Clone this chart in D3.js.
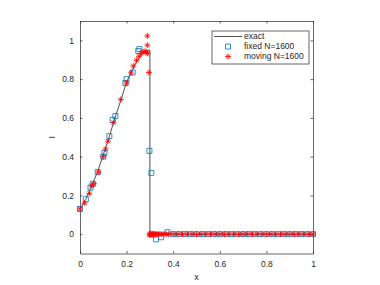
<!DOCTYPE html>
<html>
<head>
<meta charset="utf-8">
<script src="https://cdn.jsdelivr.net/npm/d3@7"></script>
<style>
body { margin: 0; background: #fff; }
text { font-family: "Liberation Sans", Arial, sans-serif; }
</style>
</head>
<body>
<div id="chart"></div>
<script>
var width = 380,
    height = 285;

// exact solution
var exactX = [0, 0.025, 0.05, 0.075, 0.1, 0.125, 0.15, 0.175, 0.2, 0.225, 0.25, 0.275, 0.3, 0.3, 1];
var exactY = [0.13, 0.18, 0.25, 0.32, 0.41, 0.50, 0.60, 0.69, 0.785, 0.85, 0.905, 0.94, 0.95, 0, 0];

// fixed grid N=1600
var fixedX = [0, 0.025, 0.045, 0.055, 0.076, 0.1, 0.105, 0.126, 0.14, 0.152, 0.195, 0.2, 0.226, 0.25, 0.255,
              0.298, 0.306, 0.326, 0.348, 0.375,
              0.4, 0.425, 0.45, 0.475, 0.5, 0.525, 0.55, 0.575, 0.6, 0.625, 0.65, 0.675, 0.7, 0.725, 0.75,
              0.775, 0.8, 0.825, 0.85, 0.875, 0.9, 0.925, 0.95, 0.975, 1];
var fixedY = [0.13, 0.18, 0.24, 0.26, 0.32, 0.40, 0.42, 0.506, 0.59, 0.61, 0.78, 0.80, 0.834, 0.945, 0.955,
              0.43, 0.316, -0.027, -0.016, 0.01,
              0, 0, 0, 0, 0, 0, 0, 0, 0, 0, 0, 0, 0, 0, 0,
              0, 0, 0, 0, 0, 0, 0, 0, 0, 0];

// moving grid N=1600
var movX = [0, 0.02, 0.04, 0.05, 0.06, 0.08, 0.1, 0.11, 0.12, 0.143, 0.175, 0.2, 0.219, 0.229, 0.243, 0.253,
            0.262, 0.27, 0.279, 0.285, 0.29, 0.289, 0.289, 0.296,
            0.298, 0.3, 0.302, 0.305, 0.308, 0.311, 0.315, 0.32, 0.325, 0.33, 0.336, 0.343, 0.35, 0.36, 0.37,
            0.38, 0.4, 0.42, 0.44, 0.46, 0.48, 0.5, 0.52, 0.54, 0.56, 0.58, 0.6, 0.62, 0.64, 0.66, 0.68, 0.7,
            0.72, 0.74, 0.76, 0.78, 0.8, 0.82, 0.84, 0.86, 0.88, 0.9, 0.92, 0.94, 0.96, 0.98, 1];
var movY = [0.13, 0.16, 0.21, 0.25, 0.26, 0.32, 0.40, 0.44, 0.48, 0.576, 0.695, 0.78, 0.832, 0.868, 0.897, 0.918,
            0.933, 0.941, 0.944, 0.939, 0.933, 1.023, 0.975, 0.834,
            0, -0.005, 0.003, -0.004, 0.002, -0.002, 0.001, 0, 0, 0, 0, 0, 0, 0, 0,
            0, 0, 0, 0, 0, 0, 0, 0, 0, 0, 0, 0, 0, 0, 0, 0, 0,
            0, 0, 0, 0, 0, 0, 0, 0, 0, 0, 0, 0, 0, 0, 0];

var xTicks = [0, 0.2, 0.4, 0.6, 0.8, 1];
var yTicks = [0, 0.2, 0.4, 0.6, 0.8, 1];
var legendLabels = ["exact", "fixed N=1600", "moving N=1600"];

var axisColor = "#262626",
    blue = "#0072BD",
    red = "#FF0000";

var svg = d3.select("#chart").append("svg")
    .attr("width", width)
    .attr("height", height);

var x = d3.scaleLinear().domain([0, 1]).range([80, 313]);
var y = d3.scaleLinear().domain([-0.1, 1.1]).range([253.5, 21]);

// axes (box, ticks pointing inside)
function styleAxis(g) {
    g.selectAll("path").attr("stroke", axisColor).attr("stroke-width", 0.7);
    g.selectAll("line").attr("stroke", axisColor).attr("stroke-width", 0.7);
    g.selectAll("text").attr("fill", axisColor).style("font-size", "8.5px")
        .style("font-family", "'Liberation Sans', Arial, sans-serif");
}

svg.append("g")
    .attr("transform", "translate(0," + y(-0.1) + ")")
    .call(d3.axisBottom(x).tickValues(xTicks).tickFormat(d3.format("~g"))
        .tickSizeInner(-2.5).tickSizeOuter(0).tickPadding(7))
    .call(styleAxis);
svg.append("g")
    .attr("transform", "translate(0," + y(1.1) + ")")
    .call(d3.axisTop(x).tickValues(xTicks).tickFormat("")
        .tickSizeInner(-2.5).tickSizeOuter(0))
    .call(styleAxis);
svg.append("g")
    .attr("transform", "translate(" + x(0) + ",0)")
    .call(d3.axisLeft(y).tickValues(yTicks).tickFormat(d3.format("~g"))
        .tickSizeInner(-2.5).tickSizeOuter(0).tickPadding(6))
    .call(styleAxis);
svg.append("g")
    .attr("transform", "translate(" + x(1) + ",0)")
    .call(d3.axisRight(y).tickValues(yTicks).tickFormat("")
        .tickSizeInner(-2.5).tickSizeOuter(0))
    .call(styleAxis);

// axis labels
svg.append("text")
    .attr("x", (x(0) + x(1)) / 2)
    .attr("y", 280)
    .attr("text-anchor", "middle")
    .attr("fill", axisColor)
    .style("font-size", "9px")
    .text("x");
svg.append("text")
    .attr("transform", "translate(55," + (y(-0.1) + y(1.1)) / 2 + ")rotate(-90)")
    .attr("text-anchor", "middle")
    .attr("fill", axisColor)
    .style("font-size", "9px")
    .text("I");

// exact line
var exact = exactX.map(function(d, i) { return [d, exactY[i]]; });
var line = d3.line()
    .x(function(d) { return x(d[0]); })
    .y(function(d) { return y(d[1]); });

svg.append("path")
    .datum(exact)
    .attr("d", line)
    .attr("fill", "none")
    .attr("stroke", "#222")
    .attr("stroke-width", 0.8);

// marker shapes
var squarePath = "M-2.5,-2.5H2.5V2.5H-2.5Z";
var starPath = "M-3,0H3M0,-3V3M-2.1,-2.1L2.1,2.1M-2.1,2.1L2.1,-2.1";

svg.append("g").selectAll("path")
    .data(fixedX.map(function(d, i) { return [d, fixedY[i]]; }))
    .enter().append("path")
    .attr("transform", function(d) { return "translate(" + x(d[0]) + "," + y(d[1]) + ")"; })
    .attr("d", squarePath)
    .attr("fill", "none")
    .attr("stroke", blue)
    .attr("stroke-width", 0.8);

svg.append("g").selectAll("path")
    .data(movX.map(function(d, i) { return [d, movY[i]]; }))
    .enter().append("path")
    .attr("transform", function(d) { return "translate(" + x(d[0]) + "," + y(d[1]) + ")"; })
    .attr("d", starPath)
    .attr("fill", "none")
    .attr("stroke", red)
    .attr("stroke-width", 0.8);

// legend
var legend = svg.append("g").attr("transform", "translate(212,31)");
legend.append("rect")
    .attr("width", 97)
    .attr("height", 33)
    .attr("fill", "#fff")
    .attr("stroke", axisColor)
    .attr("stroke-width", 0.7);

legendLabels.forEach(function(lab, i) {
    var ly = 5.5 + i * 10;
    if (i == 0) {
        legend.append("line")
            .attr("x1", 2).attr("x2", 30)
            .attr("y1", ly).attr("y2", ly)
            .attr("stroke", "#222").attr("stroke-width", 0.8);
    } else {
        legend.append("path")
            .attr("transform", "translate(16," + ly + ")")
            .attr("d", i == 1 ? squarePath : starPath)
            .attr("fill", "none")
            .attr("stroke", i == 1 ? blue : red)
            .attr("stroke-width", 0.8);
    }
    legend.append("text")
        .attr("x", 32)
        .attr("y", ly)
        .attr("dy", "0.35em")
        .attr("fill", axisColor)
        .style("font-size", "8.5px")
        .text(lab);
});
</script>
</body>
</html>
